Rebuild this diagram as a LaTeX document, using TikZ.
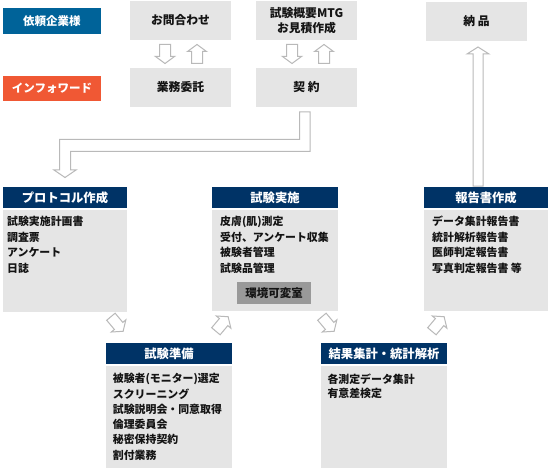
\documentclass[tikz,border=0pt]{standalone}
\usepackage{fontspec}
\setmainfont{Noto Sans CJK JP}
\usetikzlibrary{calc}
\definecolor{clientblue}{RGB}{0,99,153}
\definecolor{ifred}{RGB}{240,88,52}
\definecolor{navy}{RGB}{0,51,102}
\definecolor{boxgray}{RGB}{229,229,229}
\definecolor{midgray}{RGB}{153,153,153}
\definecolor{arrowgray}{RGB}{185,185,185}
\definecolor{txt}{RGB}{20,20,20}
\tikzset{
  box/.style={anchor=north west, inner sep=0pt, outer sep=0pt},
  topbox/.style={box, fill=boxgray, minimum width=101pt, minimum height=39pt, align=center, text=txt, font=\fontsize{11.8}{15}\selectfont\bfseries},
  labelbox/.style={box, minimum width=98pt, minimum height=26pt, text=white, font=\fontsize{11.5}{14}\selectfont\bfseries},
  header/.style={box, fill=navy, minimum height=21pt, text=white, font=\fontsize{12.3}{14}\selectfont\bfseries},
  bodybox/.style={box, fill=boxgray},
  bodytext/.style={anchor=west, inner sep=0pt, text=txt, font=\fontsize{10.9}{13}\selectfont\bfseries},
  harrow/.style={draw=arrowgray, fill=white, line width=1pt, line join=miter},
  hollowdown/.pic={\draw[harrow] (-5.5,-9.5) -- (5.5,-9.5) -- (5.5,2.5) -- (9.5,2.5) -- (0,9.5) -- (-9.5,2.5) -- (-5.5,2.5) -- cycle;}
}
\begin{document}
\begin{tikzpicture}[x=1pt,y=-1pt]
\useasboundingbox (0,0) rectangle (549,468);
\fill[white] (0,0) rectangle (549,468);

% left labels
\node[labelbox, fill=clientblue] (client) at (3,8) {依頼企業様};
\node[labelbox, fill=ifred, minimum height=25.5pt] (inf) at (3,76) {インフォワード};

% top boxes
\node[topbox] (inq) at (130,1) {お問合わせ};
\node[topbox] (gyomu) at (130,68) {業務委託};
\node[topbox] (mtg) at (256,1) {試験概要MTG\\お見積作成};
\node[topbox] (keiyaku) at (256,68) {契\ 約};
\node[topbox] (nohin) at (426,2) {納\ 品};

% small vertical arrows
\pic at ($(inq.south)+(-15.5,14)$) {hollowdown};
\pic[rotate=180] at ($(inq.south)+(16.5,14)$) {hollowdown};
\pic at ($(mtg.south)+(-14.5,14)$) {hollowdown};
\pic[rotate=180] at ($(mtg.south)+(17.5,14)$) {hollowdown};

% bent arrow from contract to protocol
\draw[harrow] (299.5,112) -- (310,112) -- (310,151.5) -- (70.5,151.5) -- (70.5,170) -- (76,170) -- (65,177.5) -- (54,170) -- (59.5,170) -- (59.5,139.5) -- (299.5,139.5) -- cycle;

% big up arrow from report to delivery
\draw[harrow] (473,186) -- (483,186) -- (483,54) -- (489,54) -- (478,47) -- (467,54) -- (473,54) -- cycle;

% protocol
\node[header, minimum width=124pt] (protoH) at (3,187) {プロトコル作成};
\node[bodybox, minimum width=124pt, minimum height=102pt] (proto) at (3,209.5) {};
\foreach \t [count=\i] in {試験実施計画書,調査票,アンケート,日誌}
  \node[bodytext] (proto\i) at ($(proto.north west)+(4,12.2+15.4*\i-15.4)$) {\t};

% execution
\node[header, minimum width=126pt] (execH) at (212,187) {試験実施};
\node[bodybox, minimum width=126pt, minimum height=101.5pt] (exec) at (212,209.5) {};
\foreach \t [count=\i] in {皮膚(肌)測定,受付、アンケート収集,被験者管理,試験品管理}
  \node[bodytext] (exec\i) at ($(exec.north west)+(8,12.2+15.4*\i-15.4)$) {\t};
\node[box, fill=midgray, minimum width=74pt, minimum height=22.5pt, text=txt, font=\fontsize{11.5}{14}\selectfont\bfseries] (kankyo) at (237,281.7) {環境可変室};

% report
\node[header, minimum width=124pt] (repH) at (424,187) {報告書作成};
\node[bodybox, minimum width=124pt, minimum height=101.5pt] (rep) at (424,209.5) {};
\foreach \t [count=\i] in {データ集計報告書,統計解析報告書,医師判定報告書,写真判定報告書 等}
  \node[bodytext] (rep\i) at ($(rep.north west)+(8,12.2+15.4*\i-15.4)$) {\t};

% preparation
\node[header, minimum width=126pt] (prepH) at (106,343.3) {試験準備};
\node[bodybox, minimum width=126pt, minimum height=101.5pt] (prep) at (106,366) {};
\foreach \t [count=\i] in {被験者(モニター)選定,スクリーニング,試験説明会・同意取得,倫理委員会,秘密保持契約,割付業務}
  \node[bodytext] (prep\i) at ($(prep.north west)+(6.7,13+15.2*\i-15.2)$) {\t};

% results
\node[header, minimum width=126pt] (resH) at (321,343.3) {結果集計・統計解析};
\node[bodybox, minimum width=126pt, minimum height=101.5pt] (res) at (321,366) {};
\foreach \t [count=\i] in {各測定データ集計,有意差検定}
  \node[bodytext] (res\i) at ($(res.north west)+(6.3,13+14*\i-14)$) {\t};

% diagonal arrows
\pic[rotate=40] at (117,324) {hollowdown};
\pic[rotate=140] at (222,324) {hollowdown};
\pic[rotate=40] at (328,324) {hollowdown};
\pic[rotate=140] at (438,324) {hollowdown};
\end{tikzpicture}
\end{document}
